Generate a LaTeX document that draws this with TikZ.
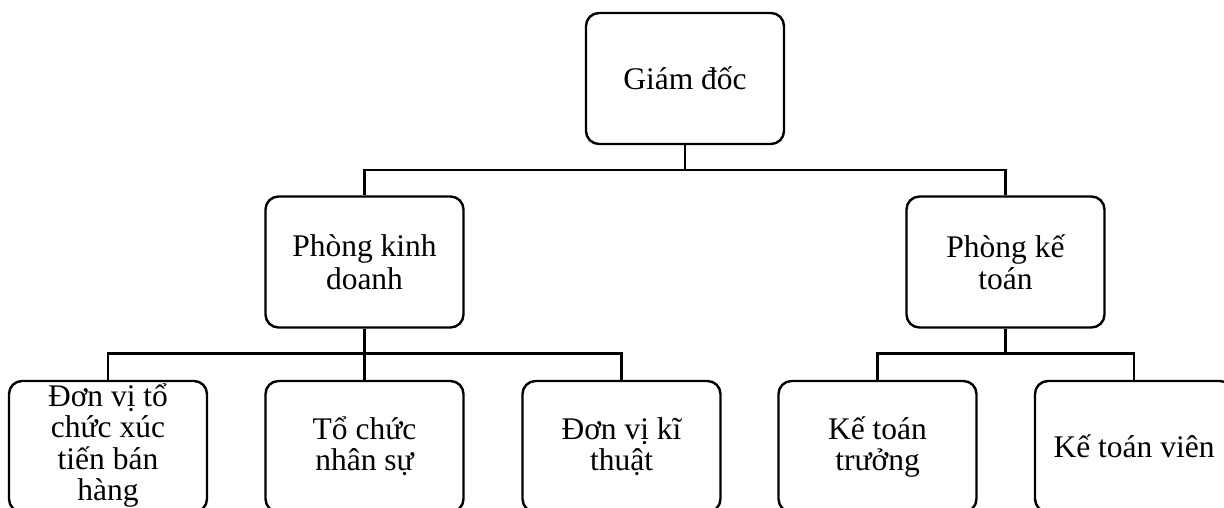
\documentclass[tikz,border=0pt]{standalone}
\usepackage{fontspec}
\setmainfont{Liberation Serif}
\begin{document}
\begin{tikzpicture}[x=1pt,y=-1pt,
  orgbox/.style={draw, line width=2.4pt, rounded corners=13pt,
    minimum width=198pt, minimum height=131pt, align=center, inner sep=0pt,
    font=\fontsize{31.5}{31}\selectfont},
  link/.style={line width=2.4pt}]
\clip (0,0) rectangle (1224,508);
\node[orgbox] (gd)  at (685,78.5) {Giám đốc};
\node[orgbox, font=\fontsize{31.5}{33}\selectfont] (pkd) at (364.5,262) {Phòng kinh\\doanh};
\node[orgbox, font=\fontsize{31.5}{32}\selectfont] (pkt) at (1005.5,262) {Phòng kế\\toán};
\node[orgbox, font=\fontsize{31.5}{29.5}\selectfont] (b1) at (108,446.5) {\raisebox{-3pt}{\begin{tabular}{@{}c@{}}Đơn vị tổ\\chức xúc\\tiến bán\\hàng\end{tabular}}};
\node[orgbox] (b2) at (364.5,446.5) {Tổ chức\\nhân sự};
\node[orgbox] (b3) at (621.5,446.5) {Đơn vị kĩ\\thuật};
\node[orgbox] (b4) at (877.5,446.5) {Kế toán\\trưởng};
\node[orgbox] (b5) at (1134,446.5) {Kế toán viên};
\coordinate (j1) at (685,170);
\coordinate (j2) at (364.5,353.5);
\coordinate (j3) at (1005.5,353.5);
\draw[link] (gd.south) -- (j1);
\draw[link] (pkd.north) |- (j1) -| (pkt.north);
\draw[link] (pkd.south) -- (j2);
\draw[link] (b1.north) |- (j2) -| (b3.north);
\draw[link] (j2) -- (b2.north);
\draw[link] (pkt.south) -- (j3);
\draw[link] (b4.north) |- (j3) -| (b5.north);
\end{tikzpicture}
\end{document}
